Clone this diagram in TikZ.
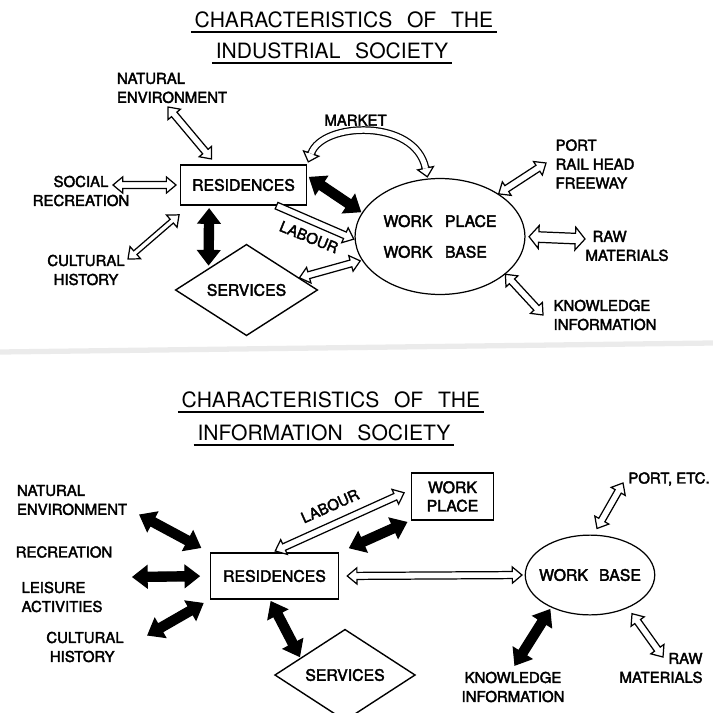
\documentclass[tikz,border=0pt]{standalone}
\usepackage{fontspec}
\setmainfont{TeX Gyre Heros}[BoldFont={TeX Gyre Heros}, BoldFeatures={FakeBold=2.5}]
\usetikzlibrary{shapes.geometric, calc}

\tikzset{
  gap a/.store in=\gapA, gap b/.store in=\gapB,
  head a/.store in=\headA, head b/.store in=\headB,
  wing a/.store in=\wingA, wing b/.store in=\wingB,
  shaft/.store in=\shaftW,
  gap a=0pt, gap b=0pt,
  % fat arrow outline, heads at both ends
  fat/.style={line width=0.7pt, line join=miter, to path={
      ($(\tikztostart)!\gapA!(\tikztotarget)$) coordinate (fP)
      ($(\tikztotarget)!\gapB!(\tikztostart)$) coordinate (fQ)
      ($(fP)!\headA!(fQ)$) coordinate (fA)
      ($(fQ)!\headB!(fP)$) coordinate (fB)
      (fP) -- ($(fA)!\wingA!90:(fQ)$) -- ($(fA)!\shaftW!90:(fQ)$)
      -- ($(fB)!\shaftW!-90:(fP)$) -- ($(fB)!\wingB!-90:(fP)$) -- (fQ)
      -- ($(fB)!\wingB!90:(fP)$) -- ($(fB)!\shaftW!90:(fP)$)
      -- ($(fA)!\shaftW!-90:(fQ)$) -- ($(fA)!\wingA!-90:(fQ)$) -- cycle}},
  wh/.style={fat, fill=white, head a=5.5pt, head b=5.5pt, wing a=4.6pt, wing b=4.6pt, shaft=2pt},
  bk/.style={fat, fill=black, head a=8pt, head b=8pt, wing a=6.2pt, wing b=6.2pt, shaft=2.6pt},
  one/.style={head a=0pt, wing a=\shaftW},
  wd/.style={double=white, double distance=3pt, line width=0.7pt},
  box/.style={draw, line width=0.8pt, inner sep=2pt, font=\fontsize{9}{10.5}\selectfont\bfseries},
  lbl/.style={inner sep=2pt, font=\fontsize{8.5}{10.8}\selectfont\bfseries},
  ttl/.style={inner sep=2pt, font=\fontsize{12}{14}\selectfont},
}

\begin{document}
\begin{tikzpicture}[x=0.02cm, y=-0.02cm]
\useasboundingbox (0,0) rectangle (713,713);
\clip (0,0) rectangle (713,713);

% industrial society
\node[ttl] at (344,20) (T1) {CHARACTERISTICS\hspace{.7em}OF\hspace{.7em}THE};
\node[ttl] at (332,51) (T2) {INDUSTRIAL\hspace{.7em}SOCIETY};
\draw[line width=0.8pt] (T1.south west) -- (T1.south east);
\draw[line width=0.8pt] (T2.south west) -- (T2.south east);

\node[box, minimum width=72pt, minimum height=22.7pt] at (243.5,185) (R1) {RESIDENCES};
\node[box, diamond, minimum width=81pt, minimum height=48pt, inner sep=0pt] at (246.5,290) (S1) {SERVICES};
\node[box, ellipse, line width=0.7pt, minimum width=96pt, minimum height=66pt, align=left]
  at (440,236.5) (W1) {WORK\hspace{.8em}PLACE\\[7pt]WORK\hspace{.8em}BASE};

\node[lbl, align=left] at (172,88) (NE1) {NATURAL\\ENVIRONMENT};
\node[lbl, align=center] at (81,191) (SR1) {SOCIAL\\RECREATION};
\node[lbl, align=center] at (86,270) (CH1) {CULTURAL\\HISTORY};
\node[lbl, align=left] at (595,164) (PR1) {PORT\\RAIL HEAD\\FREEWAY};
\node[lbl, align=left] at (627,246) (RM1) {\hspace*{4pt}RAW\\MATERIALS};
\node[lbl, align=left] at (605,315) (KI1) {KNOWLEDGE\\INFORMATION};
\node[lbl, rotate=-22] at (309,237) (LB1) {LABOUR};

\coordinate (ne1) at (168,107);
\coordinate (sr1) at (113,185);
\coordinate (ch1) at (128,259);
\coordinate (pr1) at (546,163);
\coordinate (rm1) at (585,239);
\coordinate (ki1) at (543,315);

\path (ne1) edge[wh, gap b=4pt] (R1.143);
\path (sr1) edge[wh, gap b=2pt] (R1.west);
\path (ch1) edge[wh, shaft=1.4pt, gap b=8pt] (R1.201);
\path (R1.211) edge[bk, gap a=2pt, gap b=2pt] (S1.150);
\path (R1.8) edge[bk, gap a=1.5pt, gap b=1pt] (W1.163);
\path (R1.328) edge[wh, one, gap b=0.5pt] (W1.182);
\path (S1.13) edge[wh, gap b=1pt] (W1.197);
\path (W1.36) edge[wh] (pr1);
\path (W1.east) edge[wh, shaft=3pt, wing a=6.5pt, wing b=6.5pt, gap a=2pt] (rm1);
\path (W1.330) edge[wh] (ki1);

% market: curved shaft with two hollow heads
\coordinate (mt0) at ($(R1.north east)!1.5pt!(322,122)$);
\coordinate (mb0) at ($(R1.north east)!7pt!(322,122)$);
\coordinate (mt1) at ($(W1.102)!1pt!(415,118)$);
\coordinate (mb1) at ($(W1.102)!6.5pt!(415,118)$);
\path (mb0) edge[wh, one, head b=5pt] (mt0);
\path (mb1) edge[wh, one, head b=5pt] (mt1);
\draw[wd, shorten <=6.5pt, shorten >=6pt] (R1.north east)
  .. controls (322,122) and (415,118) .. node[lbl, above=2pt, pos=.42] {MARKET} (W1.102);

% scan edge between the two halves
\draw[black!8, line width=3pt] (0,352) -- (713,343);

% information society
\node[ttl] at (331,400) (T3) {CHARACTERISTICS\hspace{.7em}OF\hspace{.7em}THE};
\node[ttl] at (324,433) (T4) {INFORMATION\hspace{.7em}SOCIETY};
\draw[line width=0.8pt] (T3.south west) -- (T3.south east);
\draw[line width=0.8pt] (T4.south west) -- (T4.south east);

\node[box, minimum width=73pt, minimum height=26pt] at (274.5,576) (R2) {RESIDENCES};
\node[box, diamond, minimum width=80pt, minimum height=46.5pt, inner sep=0pt] at (345,675) (S2) {SERVICES};
\node[box, minimum width=47pt, minimum height=26.6pt, align=center] at (452.5,496.5) (WP2) {WORK\\PLACE};
\node[box, ellipse, line width=0.7pt, minimum width=73.7pt, minimum height=45.4pt]
  at (590,575) (WB2) {\makebox[0pt]{WORK\hspace{.7em}BASE}};

\node[lbl, align=left] at (72,500) (NE2) {NATURAL\\ENVIRONMENT};
\node[lbl] at (64,552) (RC2) {RECREATION};
\node[lbl, align=left] at (62,597) (LA2) {LEISURE\\ACTIVITIES};
\node[lbl, align=left] at (85,647) (CH2) {CULTURAL\\\hspace*{2pt}HISTORY};
\node[lbl] at (669,479) (PE2) {PORT, ETC.};
\node[lbl, align=center] at (513,687) (KI2) {KNOWLEDGE\\INFORMATION};
\node[lbl, align=right] at (661,668) (RM2) {RAW\\MATERIALS};
\node[lbl, rotate=24] at (330,506) (LB2) {LABOUR};

\coordinate (ne2) at (140,515);
\coordinate (rc2) at (133,577);
\coordinate (ch2) at (148,635);
\coordinate (pe2) at (623,483);
\coordinate (ki2) at (515,665);
\coordinate (rm2) at (663,657);

\path (ne2) edge[bk, gap b=6pt] (R2.north west);
\path (rc2) edge[bk, gap b=6pt] (R2.west);
\path (ch2) edge[bk, gap b=4.5pt] (R2.south west);
\path (R2.259) edge[bk, gap a=1.5pt, gap b=1pt] (S2.159);
\path (R2.96) edge[wh, gap a=2pt, gap b=4pt] (WP2.171);
\path (WP2.south west) edge[bk, gap a=2.5pt, gap b=6.5pt] (R2.north east);
\path (R2.east) edge[wh, gap a=4.5pt, gap b=1.5pt] (WB2.west);
\path (WB2.85) edge[wh, gap a=4pt] (pe2);
\path (WB2.220) edge[bk, gap a=1.5pt] (ki2);
\path (WB2.319) edge[wh, gap a=4pt] (rm2);
\end{tikzpicture}
\end{document}
